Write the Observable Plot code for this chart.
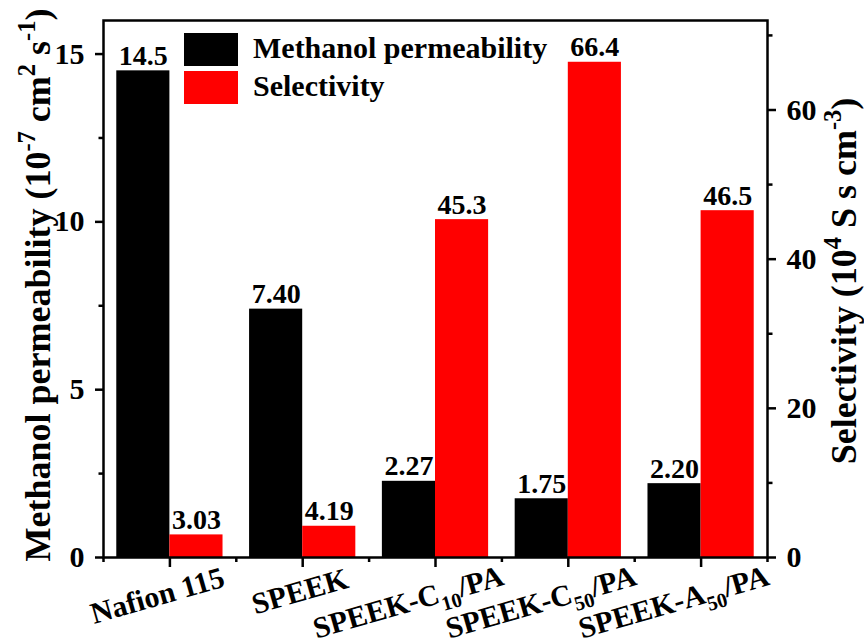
<!DOCTYPE html>
<html><head><meta charset="utf-8">
<script src="https://cdn.jsdelivr.net/npm/d3@7"></script>
<script src="https://cdn.jsdelivr.net/npm/@observablehq/plot@0.6"></script>
<style>
body{margin:0;background:#fff}
svg{font-family:"Liberation Serif","Times New Roman",serif}
</style>
</head><body><div id="chart"></div>
<script>
// ---- data ----
const categories = ["Nafion 115", "SPEEK", "SPEEK-C_{10}/PA", "SPEEK-C_{50}/PA", "SPEEK-A_{50}/PA"];
const permeability = [14.5, 7.40, 2.27, 1.75, 2.20];
const permLabels = ["14.5", "7.40", "2.27", "1.75", "2.20"];
const selectivity = [3.03, 4.19, 45.3, 66.4, 46.5];
const selLabels = ["3.03", "4.19", "45.3", "66.4", "46.5"];
const leftTicks = [0, 5, 10, 15];
const leftMinor = [2.5, 7.5, 12.5];
const rightTicks = [0, 20, 40, 60];
const rightMinor = [10, 30, 50, 70];
const leftMax = 16, rightMax = 72;
const seriesNames = ["Methanol permeability", "Selectivity"];
const seriesColors = ["#000000", "#ff0000"];
const leftTitle = "Methanol permeability (10^{-7} cm^{2} s^{-1})";
const rightTitle = "Selectivity (10^{4} S s cm^{-3})";

const ratio = rightMax / leftMax;
const idx = categories.map((_, i) => i);
const permData = idx.map(i => ({i, v: permeability[i], label: permLabels[i]}));
const selData = idx.map(i => ({i, v: selectivity[i] / ratio, label: selLabels[i]}));
const half = 0.4;
const blank = () => "";
const tickFont = {fontSize: 30, fontWeight: "bold", fill: "black", fontFamily: "Liberation Serif"};

const plot = Plot.plot({
  width: 864, height: 644,
  marginLeft: 103, marginRight: 97, marginTop: 20, marginBottom: 87,
  style: {fontFamily: "Liberation Serif, Times New Roman, serif", fontSize: "30px", fontWeight: "bold", color: "black", background: "white", overflow: "visible"},
  x: {type: "linear", domain: [-0.5, categories.length - 0.5], axis: null},
  y: {domain: [0, leftMax], axis: null},
  marks: [
    Plot.rectY(permData, {x1: d => d.i - half, x2: d => d.i, y1: 0, y2: "v", fill: seriesColors[0]}),
    Plot.rectY(selData, {x1: d => d.i, x2: d => d.i + half, y1: 0, y2: "v", fill: seriesColors[1]}),
    Plot.text(permData, {x: d => d.i - half / 2, y: "v", text: "label", dy: -6, lineAnchor: "bottom", fontSize: 28, fontWeight: "bold", fill: "black"}),
    Plot.text(selData, {x: d => d.i + half / 2, y: "v", text: "label", dy: -6, lineAnchor: "bottom", fontSize: 28, fontWeight: "bold", fill: "black"}),
    Plot.frame({stroke: "black", strokeWidth: 2.5}),
    // left axis
    Plot.axisY({anchor: "left", ticks: leftTicks, tickSize: 8, tickFormat: blank, strokeWidth: 2.5, label: null}),
    Plot.axisY({anchor: "left", ticks: leftMinor, tickSize: 4.5, tickFormat: blank, strokeWidth: 2.5, label: null}),
    Plot.text(leftTicks, {y: d => d, text: d => String(d), frameAnchor: "left", dx: -19, textAnchor: "end", ...tickFont}),
    // right axis
    Plot.axisY({anchor: "right", ticks: rightTicks.map(v => v / ratio), tickSize: 8, tickFormat: blank, strokeWidth: 2.5, label: null}),
    Plot.axisY({anchor: "right", ticks: rightMinor.map(v => v / ratio), tickSize: 4.5, tickFormat: blank, strokeWidth: 2.5, label: null}),
    Plot.text(rightTicks, {y: d => d / ratio, text: d => String(d), frameAnchor: "right", dx: 19, textAnchor: "start", ...tickFont}),
    // bottom axis
    Plot.axisX({anchor: "bottom", ticks: idx, tickSize: 10, tickFormat: blank, strokeWidth: 2.5, label: null}),
    Plot.axisX({anchor: "bottom", ticks: [-0.5, ...idx.map(i => i + 0.5)], tickSize: 5, tickFormat: blank, strokeWidth: 2.5, label: null})
  ]
});
document.getElementById("chart").appendChild(plot);

const svg = d3.select(plot);

// ---- rich text helper (sub/superscripts) ----
function richText(sel, str, size) {
  const parts = str.split(/([\^_]\{[^}]*\})/).filter(s => s.length);
  let shift = 0;
  for (const p of parts) {
    if (p[0] === "^" || p[0] === "_") {
      const dy = p[0] === "_" ? size * 0.28 : -size * 0.42;
      sel.append("tspan").attr("font-size", size * 0.68).attr("dy", dy - shift).text(p.slice(2, -1));
      shift = dy;
    } else {
      sel.append("tspan").attr("dy", -shift).text(p);
      shift = 0;
    }
  }
}

const xs = plot.scale("x");
const ys = plot.scale("y");

// x tick labels (rotated)
const xg = svg.append("g").attr("font-size", 30).attr("font-weight", "bold").attr("fill", "black");
categories.forEach((c, i) => {
  const t = xg.append("text").attr("text-anchor", "middle");
  richText(t, c, 30);
  const w = t.node().getComputedTextLength();
  const cx = xs.apply(i) - 0.25 * (w - 100);
  const cy = 601 + 0.11 * (w - 100);
  t.attr("transform", `translate(${cx},${cy}) rotate(-16)`);
});

// axis titles
const lt = svg.append("text").attr("text-anchor", "middle").attr("font-size", 36).attr("font-weight", "bold")
  .attr("transform", `translate(50,${(ys.apply(0) + 13) / 2}) rotate(-90)`);
richText(lt, leftTitle, 36);
const rt = svg.append("text").attr("text-anchor", "middle").attr("font-size", 36).attr("font-weight", "bold")
  .attr("transform", `translate(856,281) rotate(-90)`);
richText(rt, rightTitle, 36);

// legend
const lg = svg.append("g").attr("font-size", 30).attr("font-weight", "bold");
seriesNames.forEach((s, k) => {
  const y0 = 33 + k * 38;
  lg.append("rect").attr("x", 184).attr("y", y0).attr("width", 54).attr("height", 33).attr("fill", seriesColors[k]);
  lg.append("text").attr("x", 253).attr("y", y0 + 25).attr("text-anchor", "start").text(s);
});
</script>
</body></html>
